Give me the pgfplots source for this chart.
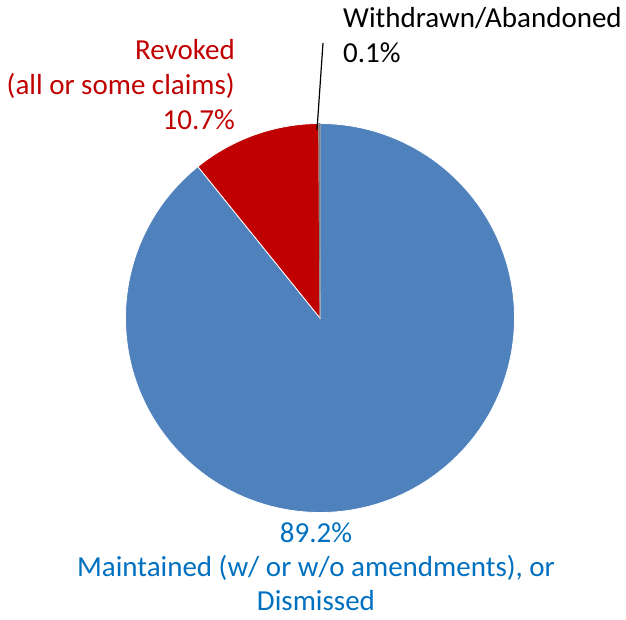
\documentclass[border=0pt]{standalone}
\usepackage{pgfplots}
\pgfplotsset{compat=1.18}
\usepackage{pgfplotstable}
\usepackage{fontspec}
\setmainfont{Carlito}

\definecolor{pieblue}{HTML}{4F81BD}
\definecolor{piered}{HTML}{C00000}
\definecolor{piegray}{HTML}{7F7F7F}
\definecolor{lblblue}{HTML}{0070C0}

% share of outcomes, in per cent, counter-clockwise from the top
\pgfplotstableread{
value
0.1
10.7
89.2
}\piedata

\begin{document}
\begin{tikzpicture}
% slice angles from the values
\pgfplotstablegetelem{0}{value}\of\piedata
\pgfmathsetmacro{\aA}{90+3.6*\pgfplotsretval}
\pgfplotstablegetelem{1}{value}\of\piedata
\pgfmathsetmacro{\aB}{\aA+3.6*\pgfplotsretval}
\pgfplotstablegetelem{2}{value}\of\piedata
\pgfmathsetmacro{\aC}{\aB+3.6*\pgfplotsretval}
\begin{axis}[
    width=626pt, height=619pt, scale only axis,
    xmin=0, xmax=626, ymin=0, ymax=619,
    axis lines=none, clip=false,
  ]
  % keep the full frame in the bounding box
  \path (axis cs:0,0) rectangle (axis cs:626,619);

  \fill[pieblue, draw=white, line width=0.8pt] (axis cs:320,301) -- +(\aB:194.5pt)
      arc[start angle=\aB, end angle=\aC, radius=194.5pt] -- cycle;
  \fill[piered, draw=white, line width=0.8pt] (axis cs:320,301) -- +(\aA:194.5pt)
      arc[start angle=\aA, end angle=\aB, radius=194.5pt] -- cycle;
  \fill[piegray, draw=piegray, line width=0.8pt] (axis cs:320,301) -- +(90:194.5pt)
      arc[start angle=90, end angle=\aA, radius=194.5pt] -- cycle;

  \draw[black, line width=1.2pt] (axis cs:323,576) -- (axis cs:317,489);

  \begin{scope}[every node/.style={font=\fontsize{29}{35}\selectfont, inner sep=0pt}]
    \node[piered, anchor=base east] at (axis cs:235,559) {Revoked};
    \node[piered, anchor=base east] at (axis cs:235,524) {(all or some claims)};
    \node[piered, anchor=base east] at (axis cs:235,489) {10.7\%};

    \node[black, anchor=base west] at (axis cs:343,591) {Withdrawn/Abandoned};
    \node[black, anchor=base west] at (axis cs:343,556) {0.1\%};

    \node[lblblue, anchor=base] at (axis cs:316,77) {89.2\%};
    \node[lblblue, anchor=base] at (axis cs:316,43) {Maintained (w/ or w/o amendments), or};
    \node[lblblue, anchor=base] at (axis cs:316,9) {Dismissed};
  \end{scope}
\end{axis}
\end{tikzpicture}
\end{document}
